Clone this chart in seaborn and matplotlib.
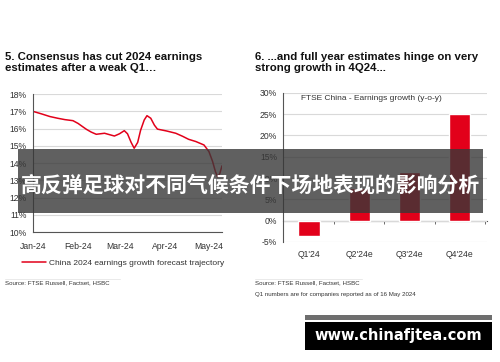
import matplotlib
matplotlib.use("Agg")
import matplotlib.pyplot as plt
import seaborn as sns
import pandas as pd
from matplotlib.patches import Rectangle

# left panel: consensus 2024 earnings growth forecast (day of year, %)
forecast_day = [0, 6, 11.6, 17, 22, 27.5, 31, 34, 36.7, 40, 43.5, 49.2, 53, 56, 59.5,
                62.8, 65, 67.5, 69.6, 72, 74, 76.5, 78.4, 81, 83.5, 85.6, 92, 98.2,
                103, 107, 112, 117.6, 121, 123.5, 125.5, 127, 128.5, 130]
forecast_val = [17.0, 16.85, 16.7, 16.6, 16.52, 16.46, 16.3, 16.12, 15.96, 15.8, 15.67,
                15.73, 15.64, 15.57, 15.7, 15.88, 15.7, 15.2, 14.86, 15.2, 15.9, 16.5,
                16.75, 16.6, 16.2, 15.97, 15.86, 15.73, 15.55, 15.38, 15.25, 15.05,
                14.67, 14.1, 13.5, 13.2, 13.4, 13.84]
month_days = [0, 31, 60, 91, 121]
month_labels = ["Jan-24", "Feb-24", "Mar-24", "Apr-24", "May-24"]

# right panel: FTSE China earnings growth y-o-y (%)
quarters = ["Q1'24", "Q2'24e", "Q3'24e", "Q4'24e"]
growth = [-3.6, 7.7, 11.4, 24.9]

RED = "#e2001a"
GRID = "#d9d9d9"
TXT = "#333333"

sns.set_style("white")
plt.rcParams["font.family"] = ["Liberation Sans", "DejaVu Sans"]

fig = plt.figure(figsize=(5, 3.62), dpi=100)

# ---- left chart
ax1 = fig.add_axes([0.066, 0.359, 0.378, 0.381])
df1 = pd.DataFrame({"day": forecast_day, "val": forecast_val})
sns.lineplot(data=df1, x="day", y="val", ax=ax1, color=RED, linewidth=1.1)
ax1.set_xlim(0, 130)
ax1.set_ylim(10, 18)
ax1.set_yticks(range(10, 19))
ax1.set_yticklabels([f"{v}%" for v in range(10, 19)])
ax1.set_xticks(month_days)
ax1.set_xticklabels(month_labels)
ax1.yaxis.grid(True, color=GRID, linewidth=0.8)
ax1.set_axisbelow(True)
ax1.set_xlabel("")
ax1.set_ylabel("")
for s in ["top", "right"]:
    ax1.spines[s].set_visible(False)
for s in ["left", "bottom"]:
    ax1.spines[s].set_color("#555555")
    ax1.spines[s].set_linewidth(0.8)
ax1.tick_params(axis="both", labelsize=6.2, colors=TXT, length=2.5, width=0.6, pad=2)
ax1.tick_params(axis="x", pad=5)
ax1.legend(handles=[plt.Line2D([], [], color=RED, linewidth=1.1)],
           labels=["China 2024 earnings growth forecast trajectory"],
           loc="upper left", bbox_to_anchor=(-0.1, -0.14), frameon=False,
           fontsize=6.0, handlelength=2.9, handletextpad=0.35, labelcolor=TXT)

# ---- right chart
ax2 = fig.add_axes([0.5666, 0.3315, 0.4074, 0.4125])
df2 = pd.DataFrame({"quarter": quarters, "growth": growth})
sns.barplot(data=df2, x="quarter", y="growth", ax=ax2, color=RED, width=0.42,
            saturation=1)
ax2.set_xlim(-0.51, 3.54)
ax2.set_ylim(-5, 30)
ax2.set_yticks(range(-5, 31, 5))
ax2.set_yticklabels([f"{v}%" for v in range(-5, 31, 5)])
ax2.yaxis.grid(True, color=GRID, linewidth=0.8)
ax2.set_axisbelow(True)
ax2.set_xlabel("")
ax2.set_ylabel("")
for s in ["top", "right", "bottom"]:
    ax2.spines[s].set_visible(False)
ax2.spines["left"].set_color("#555555")
ax2.spines["left"].set_linewidth(0.8)
ax2.tick_params(axis="y", labelsize=6.2, colors=TXT, length=2.5, width=0.6, pad=2)
ax2.tick_params(axis="x", labelsize=6.2, colors=TXT, length=0, pad=6)
zero = ax2.secondary_xaxis(5 / 35)
zero.set_xticks([0.5, 1.5, 2.5, 3.5])
zero.set_xticklabels([])
zero.tick_params(length=2.5, width=0.6, colors="#555555")
zero.spines["bottom"].set_color("#555555")
zero.spines["bottom"].set_linewidth(0.8)
ax2.text(0.085, 0.985, "FTSE China - Earnings growth (y-o-y)", transform=ax2.transAxes,
         fontsize=6.0, color=TXT, va="top")

# ---- titles and sources
fig.text(0.01, 0.857, "5. Consensus has cut 2024 earnings\nestimates after a weak Q1\u2026",
         fontsize=8.2, fontweight="bold", va="top", linespacing=1.12, color="#111111")
fig.text(0.51, 0.857, "6. ...and full year estimates hinge on very\nstrong growth in 4Q24...",
         fontsize=8.2, fontweight="bold", va="top", linespacing=1.12, color="#111111")
fig.add_artist(plt.Line2D([0.01, 0.24], [0.229, 0.229], color="#e6e6e6", linewidth=0.6))
fig.add_artist(plt.Line2D([0.51, 0.724], [0.229, 0.229], color="#e6e6e6", linewidth=0.6))
fig.text(0.01, 0.225, "Source: FTSE Russell, Factset, HSBC", fontsize=4.4, color=TXT, va="top")
fig.text(0.51, 0.225, "Source: FTSE Russell, Factset, HSBC", fontsize=4.4, color=TXT, va="top")
fig.text(0.51, 0.192, "Q1 numbers are for companies reported as of 16 May 2024",
         fontsize=4.4, color=TXT, va="top")

# ---- overlay banner
fig.add_artist(Rectangle((0.036, 0.4116), 0.93, 0.1768, transform=fig.transFigure,
                         facecolor="#383838", alpha=0.8, edgecolor="none", zorder=10))
fig.text(0.5, 0.49, "高反弹足球对不同气候条件下场地表现的影响分析",
         family=["Noto Sans CJK SC", "DejaVu Sans"], fontsize=15, fontweight="bold",
         color="white", ha="center", va="center", zorder=11)

# ---- watermark
fig.add_artist(Rectangle((0.61, 0.116), 0.374, 0.014, transform=fig.transFigure,
                         facecolor="#6e6e6e", edgecolor="none", zorder=10))
fig.add_artist(Rectangle((0.61, 0.033), 0.374, 0.078, transform=fig.transFigure,
                         facecolor="black", edgecolor="none", zorder=10))
fig.text(0.797, 0.072, "www.chinafjtea.com", family=["DejaVu Sans"], fontsize=10.5,
         fontweight="bold", color="white", ha="center", va="center", zorder=11)

fig.savefig("out.png", dpi=100)
